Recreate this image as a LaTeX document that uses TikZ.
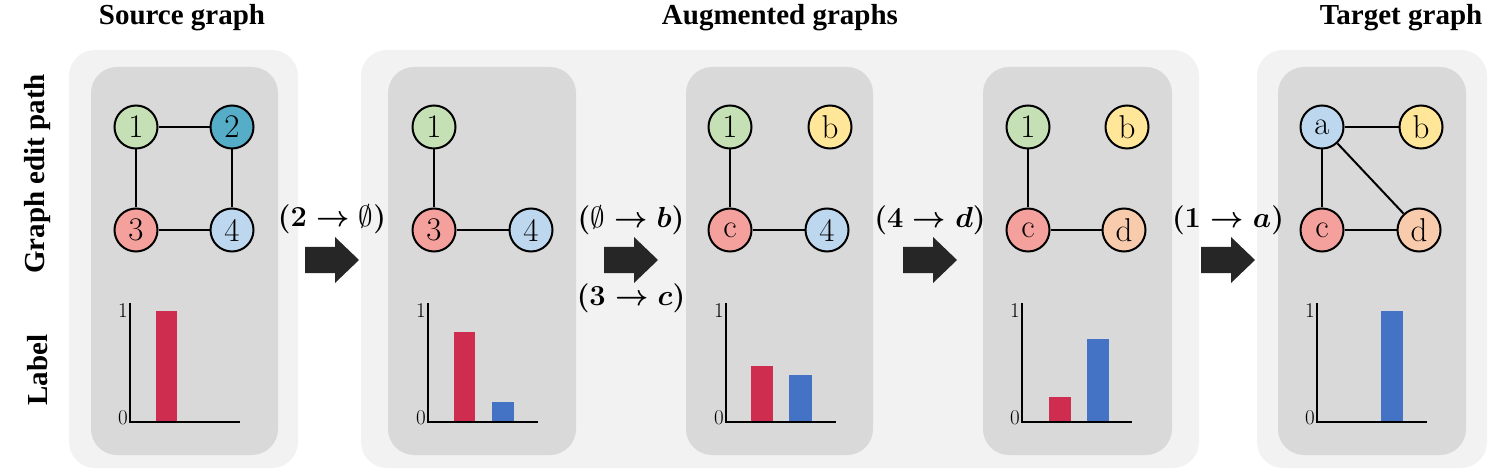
\RequirePackage{fix-cm}
\documentclass[tikz,border=0pt]{standalone}
\usepackage{fontspec}
\newfontfamily\timesfont{Liberation Serif}
\definecolor{outerbg}{HTML}{F2F2F2}
\definecolor{innerbg}{HTML}{D9D9D9}
\definecolor{ngreen}{HTML}{C5E0B4}
\definecolor{nteal}{HTML}{56ADC8}
\definecolor{nred}{HTML}{F4A09C}
\definecolor{nblue}{HTML}{BDD7EE}
\definecolor{nyellow}{HTML}{FFE699}
\definecolor{npeach}{HTML}{F8CBAD}
\definecolor{barred}{HTML}{CE2D4F}
\definecolor{barblue}{HTML}{4472C4}
\definecolor{arrowc}{HTML}{262626}
\newcommand\myblockarrow[1]{\fill[arrowc, shift={(#1)}] (-27,-13) -- (3,-13) -- (3,-23) -- (27,0) -- (3,23) -- (3,13) -- (-27,13) -- cycle;}
\newcommand\myempty{\mbox{\unboldmath$\emptyset$}}
\begin{document}
\begin{tikzpicture}[x=1pt,y=-1pt,
  gnode/.style={circle, draw=black, line width=2pt, minimum size=43pt, inner sep=0pt, font=\fontsize{33}{33}\selectfont},
  gedge/.style={line width=2pt},
  axisline/.style={line width=2pt},
  ticklab/.style={anchor=east, inner sep=0pt, font=\fontsize{21}{21}\selectfont},
  title/.style={anchor=base, inner sep=0pt, font=\timesfont\bfseries\fontsize{29}{29}\selectfont},
  rowlab/.style={rotate=90, inner sep=0pt, font=\timesfont\bfseries\fontsize{29}{29}\selectfont},
  editlab/.style={inner sep=0pt, font=\boldmath\fontsize{29}{29}\selectfont}
]
\useasboundingbox (0,0) rectangle (1495,470);
% backgrounds
\fill[outerbg, rounded corners=26pt] (69,50) rectangle (298,468);
\fill[outerbg, rounded corners=26pt] (361,50) rectangle (1199,468);
\fill[outerbg, rounded corners=26pt] (1257,50) rectangle (1487,468);
\fill[innerbg, rounded corners=26pt] (91,67) rectangle (278,455);
\fill[innerbg, rounded corners=26pt] (388,67) rectangle (576,455);
\fill[innerbg, rounded corners=26pt] (686,67) rectangle (873,455);
\fill[innerbg, rounded corners=26pt] (983,67) rectangle (1172,455);
\fill[innerbg, rounded corners=26pt] (1278,67) rectangle (1466,455);
% titles
\node[title] (t1) at (182,25) {Source graph};
\node[title] (t2) at (780,25) {Augmented graphs};
\node[title] (t3) at (1401,25) {Target graph};
\node[rowlab] (r1) at (38,174) {Graph edit path};
\node[rowlab] (r2) at (38,370) {Label};
% source graph
\node[gnode, fill=ngreen] (s1) at (136,127) {1};
\node[gnode, fill=nteal] (s2) at (232,127) {2};
\node[gnode, fill=nred] (s3) at (136,230) {3};
\node[gnode, fill=nblue] (s4) at (232,230) {4};
\draw[gedge] (s1) -- (s2);
\draw[gedge] (s1) -- (s3);
\draw[gedge] (s2) -- (s4);
\draw[gedge] (s3) -- (s4);
% aug 1
\node[gnode, fill=ngreen] (p1) at (434,127) {1};
\node[gnode, fill=nred] (p3) at (434,230) {3};
\node[gnode, fill=nblue] (p4) at (531,230) {4};
\draw[gedge] (p1) -- (p3);
\draw[gedge] (p3) -- (p4);
% aug 2
\node[gnode, fill=ngreen] (q1) at (730,127) {1};
\node[gnode, fill=nyellow] (qb) at (830,127) {b};
\node[gnode, fill=nred] (qc) at (730,230) {c};
\node[gnode, fill=nblue] (q4) at (827,230) {4};
\draw[gedge] (q1) -- (qc);
\draw[gedge] (qc) -- (q4);
% aug 3
\node[gnode, fill=ngreen] (w1) at (1028,127) {1};
\node[gnode, fill=nyellow] (wb) at (1127,127) {b};
\node[gnode, fill=nred] (wc) at (1028,230) {c};
\node[gnode, fill=npeach] (wd) at (1124,230) {d};
\draw[gedge] (w1) -- (wc);
\draw[gedge] (wc) -- (wd);
% target
\node[gnode, fill=nblue] (ta) at (1322,127) {a};
\node[gnode, fill=nyellow] (tb) at (1421,127) {b};
\node[gnode, fill=nred] (tc) at (1322,230) {c};
\node[gnode, fill=npeach] (td) at (1419,230) {d};
\draw[gedge] (ta) -- (tb);
\draw[gedge] (ta) -- (tc);
\draw[gedge] (ta) -- (td);
\draw[gedge] (tc) -- (td);
% block arrows and edit labels
\myblockarrow{332,260}
\myblockarrow{631,260}
\myblockarrow{930,260}
\myblockarrow{1228,260}
\node[editlab] (e1) at (332,219) {$(2\rightarrow\myempty)$};
\node[editlab] (e2) at (631,220) {$(\myempty\rightarrow b)$};
\node[editlab] (e3) at (631,298) {$(3\rightarrow c)$};
\node[editlab] (e4) at (930,220) {$(4\rightarrow d)$};
\node[editlab] (e5) at (1228,220) {$(1\rightarrow a)$};
% charts: bars
\fill[barred] (156,311) rectangle (177,422);
\fill[barred] (454,332) rectangle (475,422);
\fill[barblue] (492,402) rectangle (514,422);
\fill[barred] (751,366) rectangle (773,422);
\fill[barblue] (789,375) rectangle (812,422);
\fill[barred] (1049,397) rectangle (1071,422);
\fill[barblue] (1087,339) rectangle (1109,422);
\fill[barblue] (1381,311) rectangle (1403,422);
% charts: axes
\foreach \x/\n in {130/a, 428/b, 726/c, 1022/d, 1317/e}{
  \coordinate (top\n) at (\x,303);
  \coordinate (org\n) at (\x,422);
  \coordinate (end\n) at (\x+110,422);
  \draw[axisline] (top\n) -- (org\n) -- (end\n);
  \node[ticklab] (one\n) at (\x-2,311) {1};
  \node[ticklab] (zero\n) at (\x-2,418) {0};
}
\end{tikzpicture}
\end{document}
